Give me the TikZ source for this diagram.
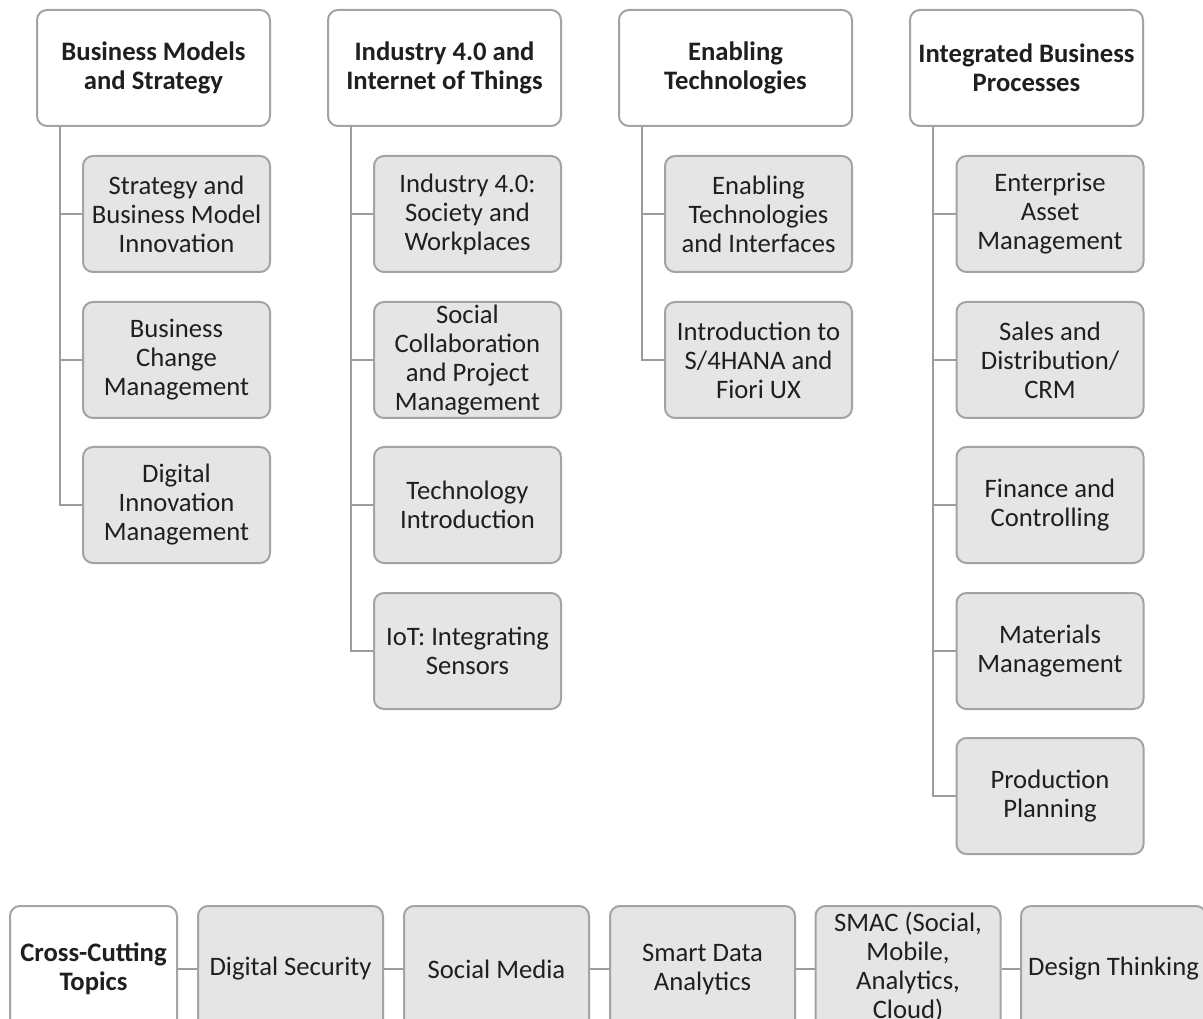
\documentclass[tikz,border=0pt]{standalone}
\usepackage{fontspec}
\setmainfont{Carlito}
\usetikzlibrary{calc}
\definecolor{edgegray}{HTML}{A3A3A3}
\definecolor{linegray}{HTML}{9C9C9C}
\definecolor{boxfill}{HTML}{E5E5E5}
\begin{document}
\begin{tikzpicture}[x=0.75pt,y=-0.75pt,
  basebox/.style={draw=edgegray,line width=1.5pt,rounded corners=7.5pt,align=center,
    inner sep=0pt,font=\fontsize{20}{21.75}\selectfont,text=black!88},
  headbox/.style={basebox,fill=white,minimum width=174.75pt,minimum height=87pt,
    font=\fontsize{20}{21.75}\selectfont\bfseries},
  topicbox/.style={basebox,fill=boxfill,minimum width=140.25pt,minimum height=87pt},
  crossbox/.style={basebox,fill=boxfill,minimum width=138.75pt,minimum height=94.5pt},
  link/.style={draw=linegray,line width=1.5pt}]
\useasboundingbox (0,0) rectangle (1203,1019);
\clip (0,0) rectangle (1203,1019);

% column headers
\node[headbox] (h1) at (153.5,68) {Business Models\\and Strategy};
\node[headbox] (h2) at (444.5,68) {Industry 4.0 and\\Internet of Things};
\node[headbox] (h3) at (735.5,68) {Enabling\\Technologies};
\node[headbox] (h4) at (1026.5,68) {Integrated Business\\Processes};

% trunk start points below each header
\coordinate (t1) at ($(h1.south west)+(24,0)$);
\coordinate (t2) at ($(h2.south west)+(24,0)$);
\coordinate (t3) at ($(h3.south west)+(24,0)$);
\coordinate (t4) at ($(h4.south west)+(24,0)$);

% column 1
\node[topicbox] (a1) at (176.5,214) {Strategy and\\Business Model\\Innovation};
\node[topicbox] (a2) at (176.5,360) {Business\\Change\\Management};
\node[topicbox] (a3) at (176.5,505) {Digital\\Innovation\\Management};

% column 2
\node[topicbox] (b1) at (467.5,214) {Industry 4.0:\\Society and\\Workplaces};
\node[topicbox] (b2) at (467.5,360) {Social\\Collaboration\\and Project\\Management};
\node[topicbox] (b3) at (467.5,505) {Technology\\Introduction};
\node[topicbox] (b4) at (467.5,651) {IoT: Integrating\\Sensors};

% column 3
\node[topicbox] (c1) at (758.5,214) {Enabling\\Technologies\\and Interfaces};
\node[topicbox] (c2) at (758.5,360) {Introduction to\\S/4HANA and\\Fiori UX};

% column 4
\node[topicbox] (d1) at (1050,214) {Enterprise\\Asset\\Management};
\node[topicbox] (d2) at (1050,360) {Sales and\\Distribution/\\CRM};
\node[topicbox] (d3) at (1050,505) {Finance and\\Controlling};
\node[topicbox] (d4) at (1050,651) {Materials\\Management};
\node[topicbox] (d5) at (1050,796) {Production\\Planning};

% tree connectors
\foreach \n in {a1,a2,a3} \draw[link] (t1) |- (\n.west);
\foreach \n in {b1,b2,b3,b4} \draw[link] (t2) |- (\n.west);
\foreach \n in {c1,c2} \draw[link] (t3) |- (\n.west);
\foreach \n in {d1,d2,d3,d4,d5} \draw[link] (t4) |- (\n.west);

% cross-cutting row
\node[headbox,minimum width=125.25pt,minimum height=94.5pt] (x0) at (93.5,969) {Cross-Cutting\\Topics};
\node[crossbox] (x1) at (290.5,969) {Digital Security};
\node[crossbox] (x2) at (496.5,969) {Social Media};
\node[crossbox] (x3) at (702.5,969) {Smart Data\\Analytics};
\node[crossbox] (x4) at (908,969) {\raisebox{4pt}{\begin{tabular}{@{}c@{}}SMAC (Social,\\Mobile,\\Analytics,\\Cloud)\end{tabular}}};
\node[crossbox] (x5) at (1113.5,969) {Design Thinking};

\draw[link] (x0.east) -- (x1.west);
\draw[link] (x1.east) -- (x2.west);
\draw[link] (x2.east) -- (x3.west);
\draw[link] (x3.east) -- (x4.west);
\draw[link] (x4.east) -- (x5.west);
\end{tikzpicture}
\end{document}
